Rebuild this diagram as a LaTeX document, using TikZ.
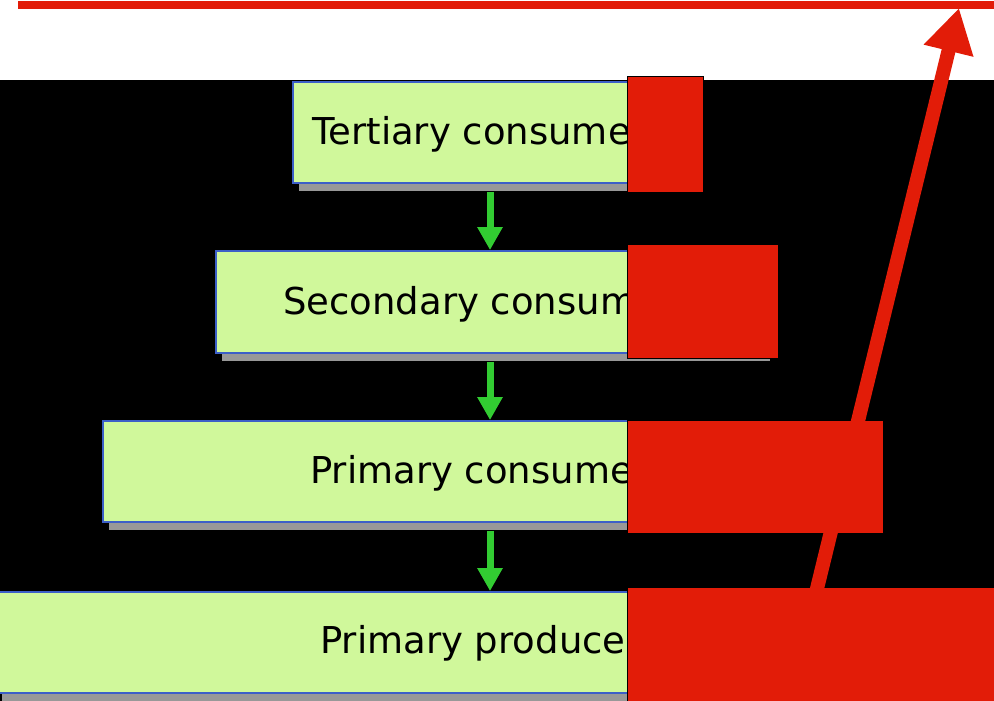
\documentclass[tikz,border=0pt]{standalone}
\usepackage{fontspec}
\setmainfont{DejaVu Sans}
\usetikzlibrary{arrows.meta,shadows}
\definecolor{leaf}{RGB}{208,248,155}
\definecolor{edgeblue}{RGB}{60,95,200}
\definecolor{signal}{RGB}{226,28,8}
\definecolor{flow}{RGB}{50,204,50}
\definecolor{shade}{RGB}{152,152,152}

\tikzset{
  level/.style={draw=edgeblue, line width=1.8pt, fill=leaf, inner sep=0pt,
    minimum height=101pt,
    drop shadow={shadow xshift=6pt, shadow yshift=-8pt, fill=shade, opacity=1}},
  caption/.style={anchor=base west, inner sep=0pt,
    font=\fontsize{37pt}{44pt}\selectfont},
  cover/.style={draw=black, line width=1.2pt, fill=signal, inner sep=0pt,
    anchor=north west},
  feed/.style={draw=flow, line width=7pt, -{Triangle[length=23pt,width=24pt]}},
  pointer/.style={draw=signal, line width=14pt, -{Triangle[length=44pt,width=48pt]}}
}

\begin{document}
\begin{tikzpicture}[x=1pt,y=-1pt]
  % canvas: white strip on top, black panel below
  \clip (0,0) rectangle (994,701);
  \fill[white] (0,0) rectangle (994,701);
  \fill[black] (0,80) rectangle (994,701);

  % red rule along the top edge
  \coordinate (ruleL) at (18,5);
  \coordinate (ruleR) at (994,5);
  \draw[signal, line width=8pt] (ruleL) -- (ruleR);

  % trophic levels
  \node[level, minimum width=394pt] (tert) at (490,132.5) {};
  \node[level, minimum width=548pt, minimum height=102pt] (sec) at (490,302) {};
  \node[level, minimum width=774pt] (prim) at (490,471.5) {};
  \node[level, minimum width=988pt] (prod) at (490,642.5) {};

  % energy flow arrows
  \draw[feed] ([yshift=-8pt]tert.south) -- (sec.north);
  \draw[feed] ([yshift=-8pt]sec.south) -- (prim.north);
  \draw[feed] ([yshift=-8pt]prim.south) -- (prod.north);

  % labels
  \node[caption] (tertL) at (312,144) {Tertiary consumer};
  \node[caption] (secL) at (283,314) {Secondary consumer};
  \node[caption] (primL) at (310,483) {Primary consumer};
  \node[caption] (prodL) at (320,653) {Primary producer};

  % red blocks
  \node[cover, minimum width=76pt, minimum height=116pt] (c1) at (627,76) {};
  \node[cover, minimum width=151pt, minimum height=114pt] (c2) at (627,244) {};
  \node[cover, minimum width=256pt, minimum height=113pt] (c3) at (627,420) {};
  \node[cover, minimum width=380pt, minimum height=120pt] (c4) at (627,587) {};

  % red arrow rising to the top rule
  \coordinate (base) at (813,605);
  \coordinate (tip) at (959,8);
  \draw[pointer] (base) -- (tip);
\end{tikzpicture}
\end{document}
